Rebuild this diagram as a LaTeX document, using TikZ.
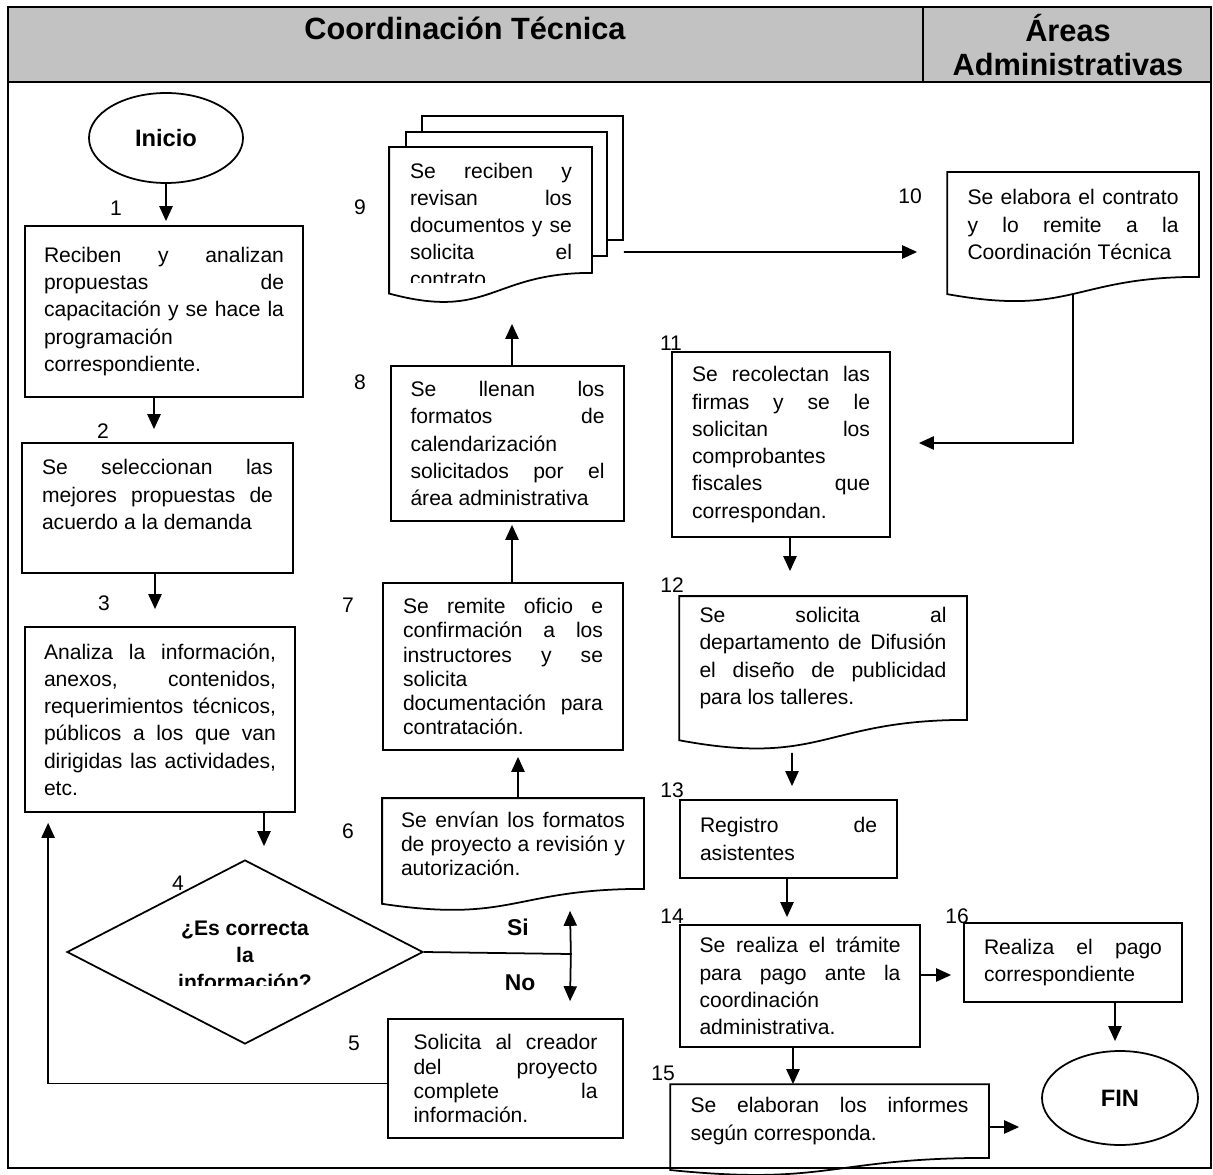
\documentclass[tikz,border=0pt]{standalone}
\usepackage{fontspec}
\setmainfont{Liberation Sans}
\usetikzlibrary{arrows.meta,calc,shapes.geometric}

\newlength\pxl
\setlength\pxl{0.02cm}
\tolerance=10000
\hyphenpenalty=10000
\newcommand\boxfont{\fontsize{12}{15.5}\selectfont}
\newcommand\tightfont{\fontsize{12}{13.7}\selectfont}
% document symbol: frame of the node plus a wavy bottom
\newcommand\docpath[2][]{\draw[#1] (#2.north west) -- (#2.north east) -- (#2.south east)
  .. controls (#2.south) and ($(#2.north)!1.381!(#2.south)$) .. ($(#2.north west)!1.1646!(#2.south west)$) -- cycle;}

\begin{document}
\begin{tikzpicture}[x=0.02cm,y=-0.02cm,>={Triangle[length=8.5pt,width=7.5pt]},line width=1pt,
    proc/.style={rectangle,draw,align=justify,font=\boxfont,inner sep=2pt},
    docbox/.style={rectangle,align=justify,font=\boxfont,inner sep=2pt},
    term/.style={ellipse,draw,font=\bfseries\fontsize{13.5}{16}\selectfont},
    head/.style={font=\bfseries\fontsize{17.5}{19.4}\selectfont},
    num/.style={font=\fontsize{12}{14}\selectfont},
    answer/.style={font=\bfseries\fontsize{13}{15}\selectfont}]

  \useasboundingbox (0,0) rectangle (1213,1175);

  % Header and frame
  \fill[black!24] (8,7) rectangle (1211,82);
  \draw (8,7) rectangle (1211,1168);
  \draw (8,82) -- (1211,82);
  \draw (923,7) -- (923,82);
  \node[head] (hct) at (465,28) {Coordinación Técnica};
  \node[head,align=center] (hadm) at (1068,45) {Áreas\\Administrativas};

  % Coordinacion Tecnica, left column
  \node[term,minimum width=154\pxl,minimum height=90\pxl] (ini) at (166,138) {Inicio};
  \node[proc,minimum width=278\pxl,minimum height=171\pxl,text width=240\pxl] (n1) at (164,311.5)
    {Reciben y analizan\linebreak propuestas de\linebreak capacitación y se hace la\linebreak programación\linebreak correspondiente.};
  \node[proc,minimum width=271\pxl,minimum height=130\pxl,text width=231\pxl] (n2) at (157.5,508)
    {Se seleccionan las\linebreak mejores propuestas de\linebreak acuerdo a la demanda\hfil\break\mbox{}};
  \node[proc,minimum width=270\pxl,minimum height=185\pxl,text width=232\pxl] (n3) at (160,719.5)
    {Analiza la información,\linebreak anexos, contenidos,\linebreak requerimientos técnicos,\linebreak públicos a los que van\linebreak dirigidas las actividades,\linebreak etc.};
  \node[diamond,draw,minimum width=356\pxl,minimum height=184\pxl,inner sep=0pt] (n4) at (245,952) {};
  \begin{scope}
    \clip (150,900) rectangle (340,985);
    \node[font=\bfseries\fontsize{12}{15.4}\selectfont,align=center] (q4) at (245,955)
      {¿Es correcta\\la\\información?};
  \end{scope}

  % Coordinacion Tecnica, middle column
  \node[proc,font=\tightfont,minimum width=235\pxl,minimum height=119\pxl,text width=184\pxl] (n5) at (505.5,1078.5)
    {Solicita al creador\linebreak del proyecto\linebreak complete la\linebreak información.};
  \node[docbox,font=\tightfont,minimum width=260\pxl,minimum height=89\pxl,text width=224\pxl] (n6) at (513,843.5)
    {Se envían los formatos\linebreak de proyecto a revisión y\linebreak autorización.};
  \docpath{n6}
  \node[proc,font=\tightfont,minimum width=240\pxl,minimum height=167\pxl,text width=200\pxl] (n7) at (503,666.5)
    {Se remite oficio e\linebreak confirmación a los\linebreak instructores y se\linebreak solicita\linebreak documentación para\linebreak contratación.};
  \node[proc,minimum width=233\pxl,minimum height=155\pxl,text width=194\pxl] (n8) at (507.5,443.5)
    {Se llenan los\linebreak formatos de\linebreak calendarización\linebreak solicitados por el\linebreak área administrativa};
  \node[draw,fill=white,minimum width=201\pxl,minimum height=124\pxl,inner sep=0pt] (n9c) at (522.5,178) {};
  \node[draw,fill=white,minimum width=201\pxl,minimum height=124\pxl,inner sep=0pt] (n9b) at (506.5,194) {};
  \node[minimum width=201\pxl,minimum height=124\pxl,inner sep=0pt] (n9) at (490.5,210) {};
  \docpath[fill=white]{n9}
  \begin{scope}
    \clip ($(n9.north west)+(0,-5)$) rectangle ($(n9.south east)+(0,10)$);
    \node[docbox,text width=162\pxl,inner sep=0pt] (t9) at (491,225)
      {Se reciben y\linebreak revisan los\linebreak documentos y se\linebreak solicita el\linebreak contrato};
  \end{scope}

  % Areas Administrativas and right column
  \node[docbox,minimum width=250\pxl,minimum height=103\pxl,text width=211\pxl] (n10) at (1073,224.5)
    {Se elabora el contrato\linebreak y lo remite a la\linebreak Coordinación Técnica};
  \docpath{n10}
  \node[proc,minimum width=218\pxl,minimum height=185\pxl,text width=178\pxl] (n11) at (781,444.5)
    {Se recolectan las\linebreak firmas y se le\linebreak solicitan los\linebreak comprobantes\linebreak fiscales que\linebreak correspondan.};
  \node[docbox,minimum width=286\pxl,minimum height=122\pxl,text width=247\pxl] (n12) at (823,658)
    {Se solicita al\linebreak departamento de Difusión\linebreak el diseño de publicidad\linebreak para los talleres.};
  \docpath{n12}
  \node[proc,minimum width=217\pxl,minimum height=78\pxl,text width=177\pxl] (n13) at (788.5,839)
    {Registro de\linebreak asistentes};
  \node[proc,minimum width=240\pxl,minimum height=122\pxl,text width=201\pxl] (n14) at (800,986)
    {Se realiza el trámite\linebreak para pago ante la\linebreak coordinación\linebreak administrativa.};
  \node[docbox,minimum width=317\pxl,minimum height=72\pxl,text width=278\pxl] (n15) at (829.5,1121)
    {Se elaboran los informes\linebreak según corresponda.};
  \docpath{n15}
  \node[proc,minimum width=218\pxl,minimum height=79\pxl,text width=178\pxl] (n16) at (1073,962.5)
    {Realiza el pago\linebreak correspondiente};
  \node[term,minimum width=156\pxl,minimum height=94\pxl] (fin) at (1120,1098) {FIN};

  % Step numbers
  \node[num] (l1) at (116,208) {1};
  \node[num] (l2) at (103,431) {2};
  \node[num] (l3) at (104,603) {3};
  \node[num] (l4) at (178,883) {4};
  \node[num] (l5) at (354,1043) {5};
  \node[num] (l6) at (348,831) {6};
  \node[num] (l7) at (348,605) {7};
  \node[num] (l8) at (360,382) {8};
  \node[num] (l9) at (360,207) {9};
  \node[num] (l10) at (910,196) {10};
  \node[num] (l11) at (671,343) {11};
  \node[num] (l12) at (672,585) {12};
  \node[num] (l13) at (672,790) {13};
  \node[num] (l14) at (672,916) {14};
  \node[num] (l15) at (663,1073) {15};
  \node[num] (l16) at (957,916) {16};
  \node[answer] (si) at (518,927) {Si};
  \node[answer] (no) at (520,983) {No};

  % Flow
  \draw[->] (ini.south) -- ($(n1.north)+(2,-4)$);
  \draw[->] ($(n1.south)+(-10,0)$) -- ($(n2.north)+(-3.5,-13)$);
  \draw[->] ($(n2.south)+(-2.5,0)$) -- ($(n3.north)+(-5,-17)$);
  \draw[->] ($(n3.south)+(104,0)$) -- ($(n4.north)+(19,-13)$);

  % Decision: Si goes up, No goes down
  \coordinate (sn) at ($(n4.east)+(147,2)$);
  \draw (n4.east) -- (sn);
  \draw[->] (sn) -- ($(n6.south)+(57,22)$);
  \draw[->] (sn) -- ($(n5.north)+(64.5,-17)$);
  \draw[->] ($(n5.west)+(0,5)$) -| ($(n3.south west)+(24,10)$);

  \draw[->] ($(n6.north)+(5,0)$) -- ($(n7.south)+(15,6)$);
  \draw[->] ($(n7.north)+(9,0)$) -- ($(n8.south)+(4.5,3)$);
  \draw[->] ($(n8.north)+(4.5,0)$) -- ($(n9.south)+(21.5,51)$);
  \draw[->] ($(n9c.east)+(0,74)$) -- ($(n10.west)+(-30,27.5)$);
  \draw[->] ($(n10.north)!1.16!(n10.south)$) |- ($(n11.east)+(28,-1.5)$);
  \draw[->] ($(n11.south)+(9,0)$) -- ($(n12.north)+(-33,-25)$);
  \draw[->] ($(n12.south)+(-31,33)$) -- ($(n13.north)+(3.5,-13)$);
  \draw[->] ($(n13.south)+(-1.5,0)$) -- ($(n14.north)+(-13,-7)$);
  \draw[->] ($(n14.east)+(0,-11)$) -- ($(n16.west)+(-12,12.5)$);
  \draw[->] ($(n14.south)+(-7,0)$) -- ($(n15.north)+(-36.5,0)$);
  \draw[->] ($(n16.south)+(42,0)$) -- ($(fin.north)+(-5,-9)$);
  \draw[->] ($(n15.east)+(0,6)$) -- ($(fin.west)+(-22,29)$);

\end{tikzpicture}
\end{document}
